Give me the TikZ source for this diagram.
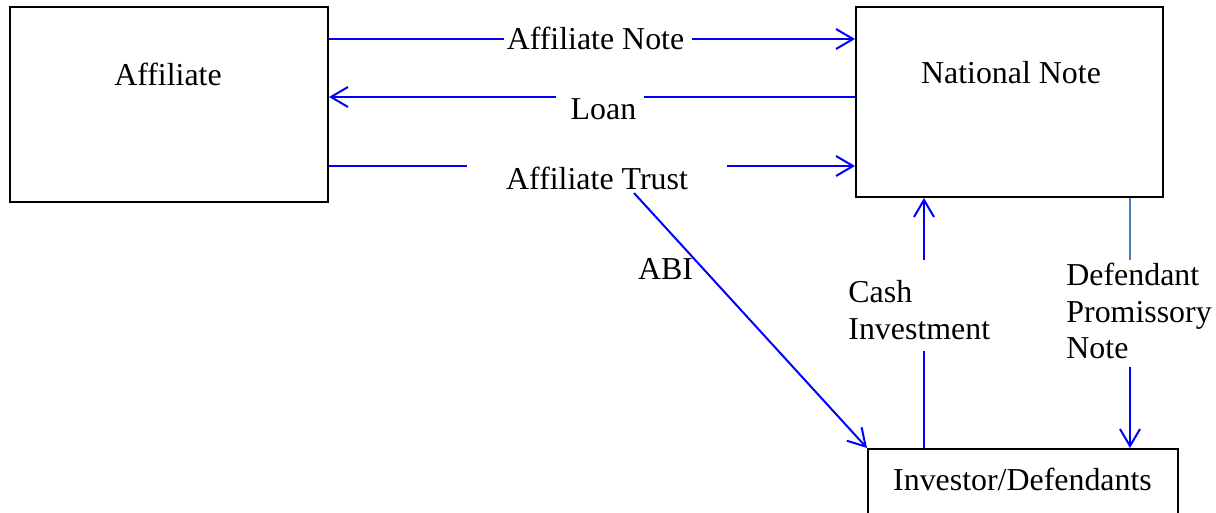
\documentclass[tikz,border=0pt]{standalone}
\usepackage{fontspec}
\setmainfont{Liberation Serif}
\usetikzlibrary{arrows.meta}
\definecolor{lineblue}{RGB}{0,0,255}
\definecolor{steel}{RGB}{74,126,187}
\begin{document}
\begin{tikzpicture}[x=0.5pt,y=-0.5pt,
  box/.style={draw=black,line width=1pt,inner sep=0pt},
  lbl/.style={font=\fontsize{15.95pt}{18.5pt}\selectfont,inner sep=0pt,anchor=base},
  lblw/.style={lbl,anchor=base west},
  conn/.style={draw=lineblue,line width=1pt},
  arr/.style={conn,-{Straight Barb[length=8.5pt,width=10pt]}},
  thinconn/.style={draw=steel,line width=0.75pt}]
\useasboundingbox (0,0) rectangle (1216,513);
% boxes
\node[box,minimum width=159pt,minimum height=97.5pt] (aff) at (169,104.5) {};
\node[box,minimum width=153.5pt,minimum height=95pt] (nat) at (1009.5,102) {};
\node[box,minimum width=155pt,minimum height=48pt] (inv) at (1023,497) {};
% box texts
\node[lbl] (afft) at (168,85.5) {Affiliate};
\node[lbl] (natt) at (1011,83.5) {National Note};
\node[lbl] (invt) at (1022.5,490.5) {Investor/Defendants};
% connector labels
\node[lbl] (anote) at (595.5,49.5) {Affiliate Note};
\node[lbl] (loan) at (603.5,119.5) {Loan};
\node[lbl] (atrust) at (597,189.5) {Affiliate Trust};
\node[lbl] (abi) at (665.5,279.5) {ABI};
\node[lblw] (cash1) at (848,302.5) {Cash};
\node[lblw] (cash2) at (848,339.5) {Investment};
\node[lblw] (def1) at (1066,285.5) {Defendant};
\node[lblw] (def2) at (1066,322.5) {Promissory};
\node[lblw] (def3) at (1066,358.5) {Note};
% gap coordinates
\coordinate (an1) at (504,39);
\coordinate (an2) at (692,39);
\coordinate (l1) at (644,97);
\coordinate (l2) at (556,97);
\coordinate (t1) at (467,166);
\coordinate (t2) at (727,166);
\coordinate (abi0) at (634,193);
\coordinate (c1) at (924,351);
\coordinate (c2) at (924,260);
\coordinate (d1) at (1130,260);
\coordinate (d2) at (1130,367);
% connectors
\draw[conn] (aff.east |- an1) -- (an1);
\draw[arr] (an2) -- (nat.west |- an2);
\draw[conn] (nat.west |- l1) -- (l1);
\draw[arr] (l2) -- (aff.east |- l2);
\draw[conn] (aff.east |- t1) -- (t1);
\draw[arr] (t2) -- (nat.west |- t2);
\draw[arr] (abi0) -- (inv.north west);
\draw[conn] (inv.north -| c1) -- (c1);
\draw[arr] (c2) -- (nat.south -| c2);
\draw[thinconn] (nat.south -| d1) -- (d1);
\draw[arr] (d2) -- (inv.north -| d2);
\end{tikzpicture}
\end{document}
